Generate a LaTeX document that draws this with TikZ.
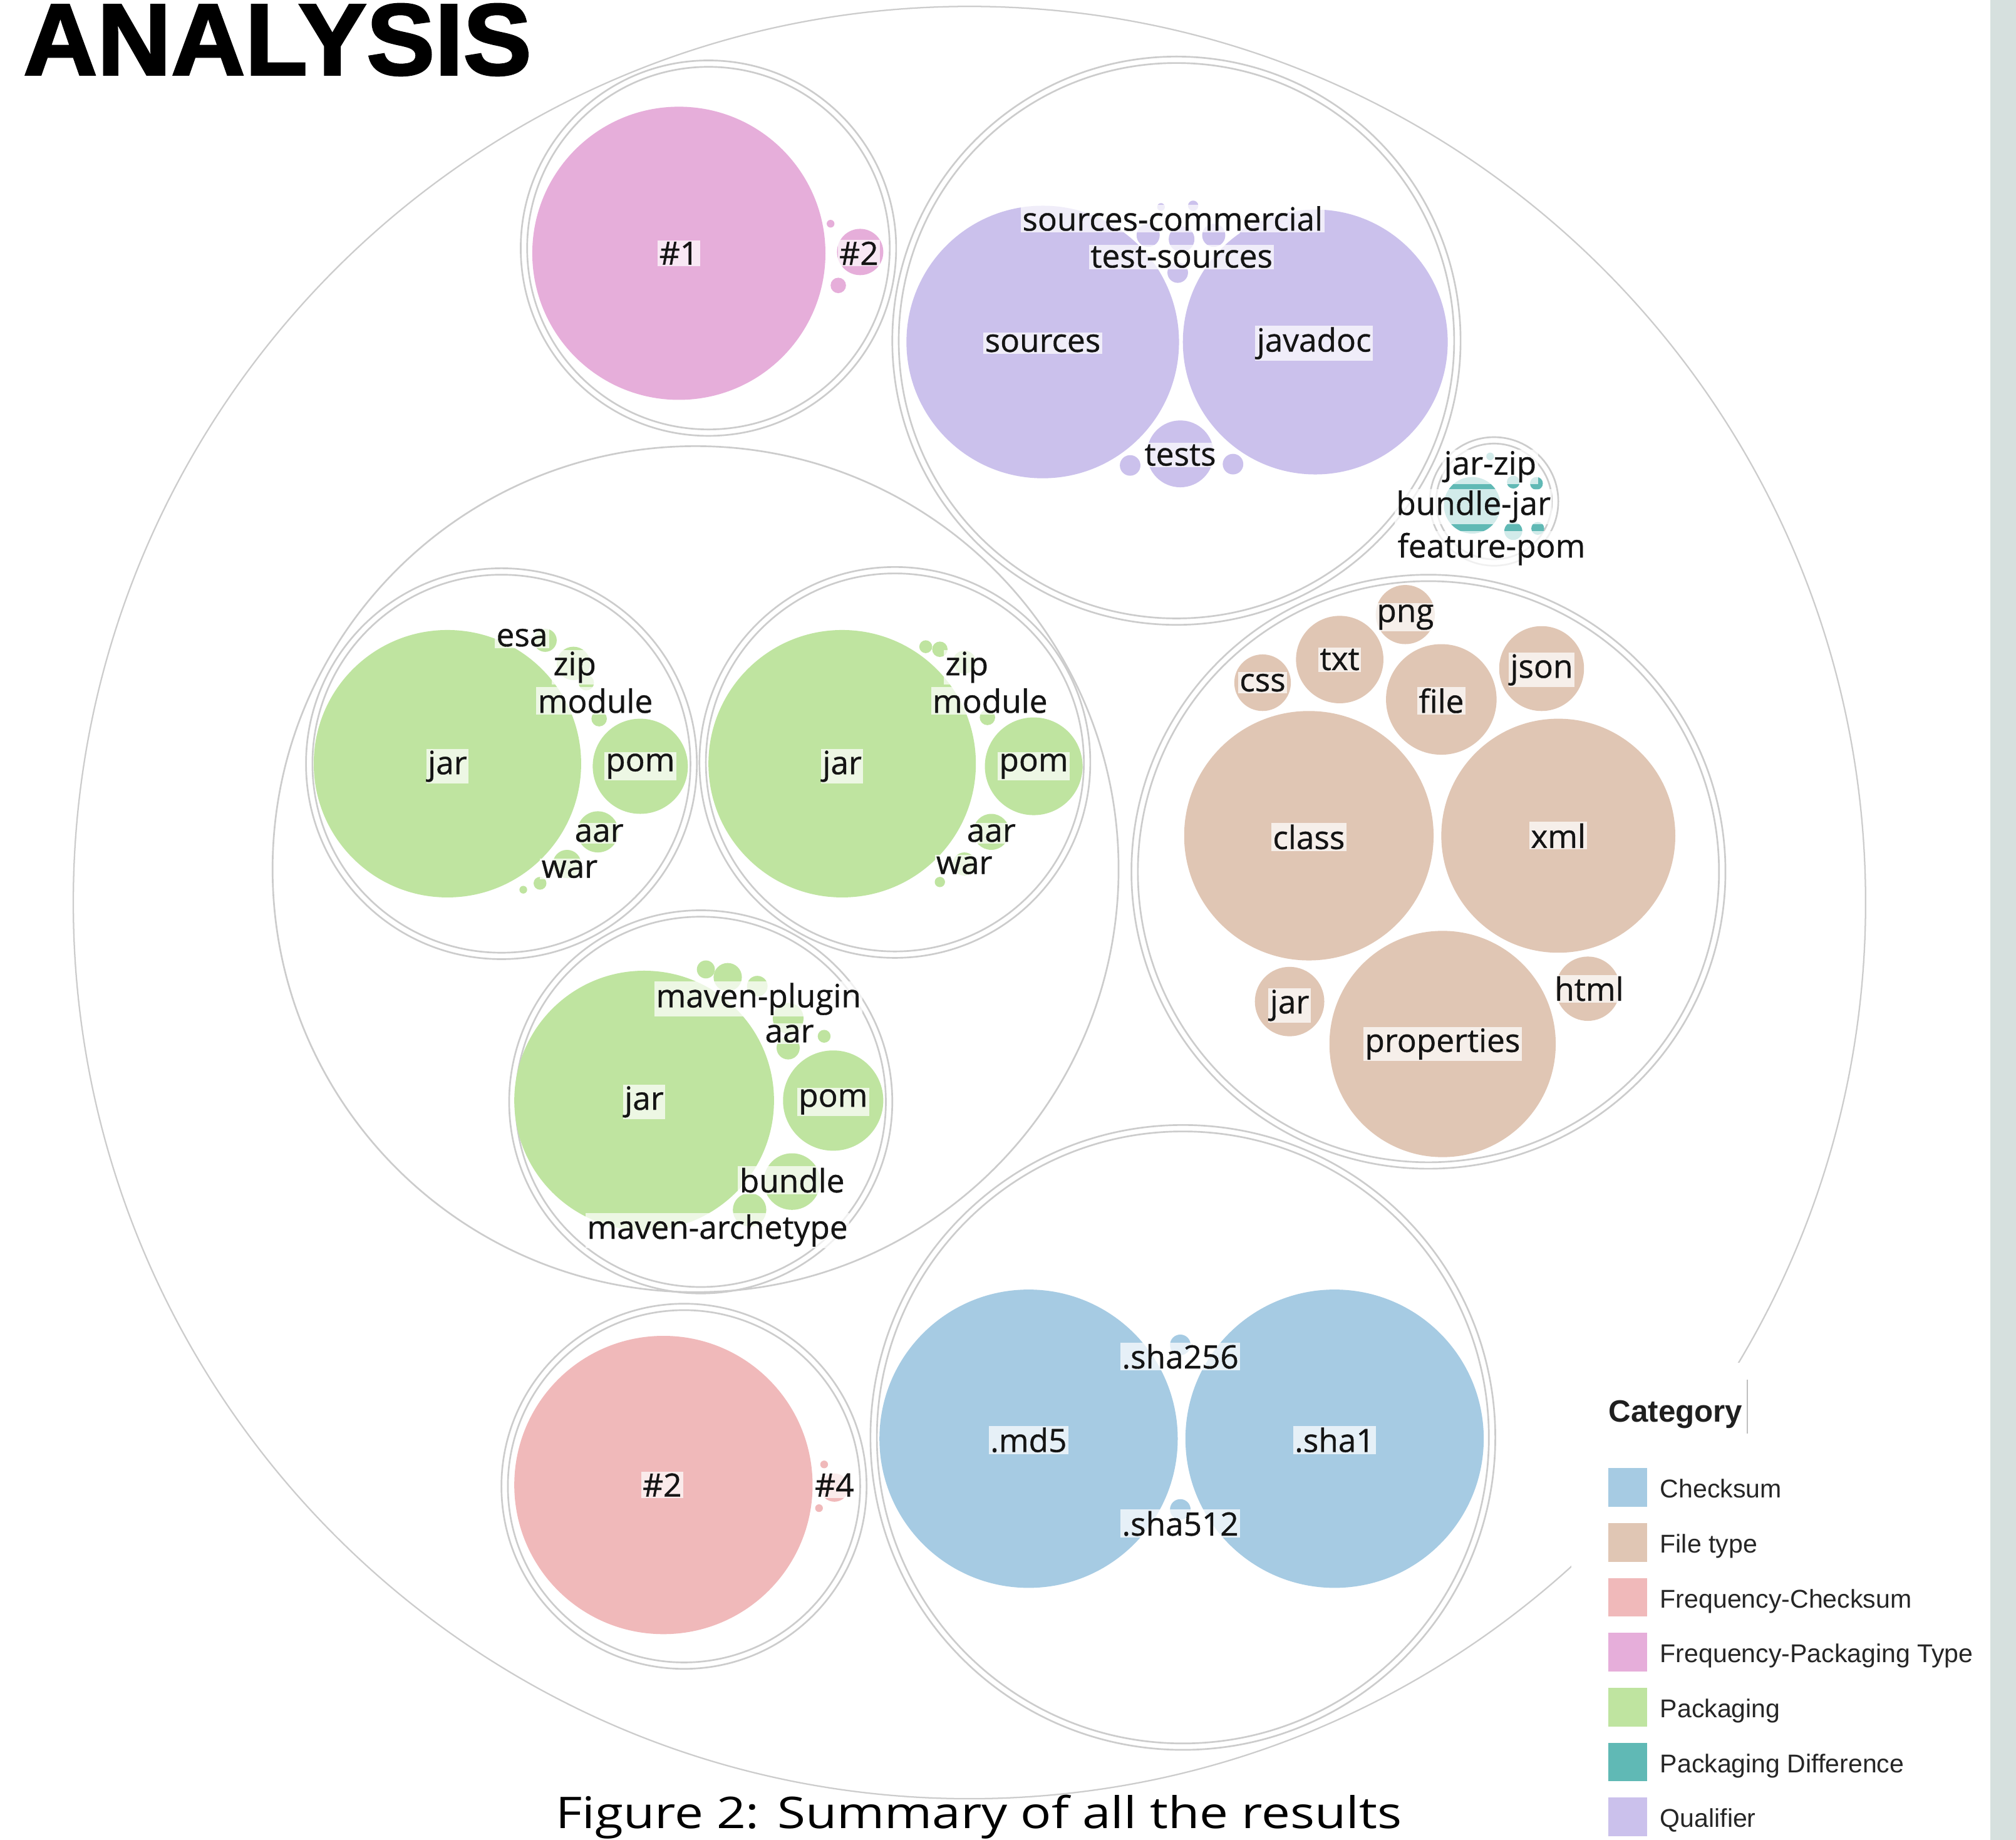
\documentclass[tikz,border=0pt]{standalone}
\usepackage{fontspec}
\setmainfont{Open Sans}
\newfontfamily\lblfont{Open Sans}[FakeBold=0.7]
\newfontfamily\legfont{Liberation Sans}
\newfontfamily\titlefont{Liberation Sans Bold}[FakeBold=2]
\definecolor{cs}{HTML}{A6CBE3}
\definecolor{ft}{HTML}{E0C6B4}
\definecolor{fc}{HTML}{F0B9BA}
\definecolor{fp}{HTML}{E6AEDA}
\definecolor{pk}{HTML}{BFE4A0}
\definecolor{pd}{HTML}{60B9B5}
\definecolor{ql}{HTML}{CBC1EC}
\definecolor{ringc}{HTML}{CCCCCC}
\definecolor{stripc}{HTML}{D6E0DE}
\newcommand\dring[2]{\draw[ring] (#1) circle[radius=#2pt]; \draw[ring] (#1) circle[radius=#2pt-5pt];}
\newcommand\leaf[4]{\fill[#1] (#2,#3) circle[radius=#4pt];}
\begin{document}
\begin{tikzpicture}[x=1pt,y=-1pt,
 ring/.style={draw=ringc, line width=1.3pt},
 lbl/.style={fill=white, fill opacity=0.72, text opacity=1, inner sep=1.2pt, font=\lblfont\fontsize{25}{28}\selectfont, text=black!92},
 legtxt/.style={font=\legfont\fontsize{20}{22}\selectfont, anchor=base west, inner sep=0pt, text=black!85},
]
\useasboundingbox (0,0) rectangle (1568,1431);
\fill[white] (0,0) rectangle (1568,1431);
\fill[stripc] (1548,0) rectangle (1568,1431);

% outer ring
\draw[ring, line width=1.1pt] (754,702) circle[radius=697pt];

% Frequency-Packaging Type
\dring{551,193}{146}
\leaf{fp}{528}{197}{114}
\leaf{fp}{669}{196}{18}
\leaf{fp}{652}{222}{6}
\leaf{fp}{646}{174}{3}

% Qualifier
\dring{915,265}{221}
\leaf{ql}{811}{266}{106}
\leaf{ql}{1023}{266}{103}
\leaf{ql}{918}{353}{26}
\leaf{ql}{893}{183}{9}
\leaf{ql}{919}{186}{10}
\leaf{ql}{944}{183}{9}
\leaf{ql}{928}{160}{4}
\leaf{ql}{903}{161}{3}
\leaf{ql}{916}{212}{8}
\leaf{ql}{970}{183}{6}
\leaf{ql}{879}{362}{8}
\leaf{ql}{959}{361}{8}

% Packaging Difference
\dring{1162,390}{50}
\leaf{pd}{1145}{393}{22}
\leaf{pd}{1177}{375}{5}
\leaf{pd}{1195}{376}{5}
\leaf{pd}{1177}{413}{7}
\leaf{pd}{1196}{411}{5}
\leaf{pd}{1159}{355}{3}

% Packaging
\draw[ring] (541,676) circle[radius=329pt];
% left sub
\dring{390,594}{152}
\leaf{pk}{348}{594}{104}
\leaf{pk}{498}{596}{37}
\leaf{pk}{424}{498}{9}
\leaf{pk}{446}{516}{13}
\leaf{pk}{456}{531}{6}
\leaf{pk}{466}{559}{6}
\leaf{pk}{465}{647}{16}
\leaf{pk}{441}{672}{11}
\leaf{pk}{420}{687}{5}
\leaf{pk}{407}{692}{3}
% right sub
\dring{696,593}{152}
\leaf{pk}{655}{594}{104}
\leaf{pk}{804}{596}{38}
\leaf{pk}{720}{503}{5}
\leaf{pk}{731}{505}{6}
\leaf{pk}{750}{515}{9}
\leaf{pk}{768}{558}{6}
\leaf{pk}{771}{647}{14}
\leaf{pk}{750}{672}{9}
\leaf{pk}{731}{686}{4}
% bottom sub
\dring{545,857}{149}
\leaf{pk}{501}{856}{101}
\leaf{pk}{648}{856}{39}
\leaf{pk}{616}{919}{22}
\leaf{pk}{549}{754}{7}
\leaf{pk}{566}{760}{11}
\leaf{pk}{589}{767}{8}
\leaf{pk}{613}{792}{12}
\leaf{pk}{613}{815}{9}
\leaf{pk}{641}{806}{5}
\leaf{pk}{583}{941}{13}

% File type
\dring{1111,678}{231}
\leaf{ft}{1018}{650}{97}
\leaf{ft}{1212}{650}{91}
\leaf{ft}{1122}{812}{88}
\leaf{ft}{1003}{779}{27}
\leaf{ft}{1235}{769}{25}
\leaf{ft}{1121}{544}{43}
\leaf{ft}{1199}{520}{33}
\leaf{ft}{1042}{513}{34}
\leaf{ft}{1093}{478}{23}
\leaf{ft}{982}{531}{22}

% Frequency-Checksum
\dring{532,1156}{142}
\leaf{fc}{516}{1155}{116}
\leaf{fc}{649}{1157}{11}
\leaf{fc}{637}{1173}{3}
\leaf{fc}{641}{1139}{3}

% Checksum
\dring{920,1118}{243}
\leaf{cs}{800}{1119}{116}
\leaf{cs}{1038}{1119}{116}
\leaf{cs}{918}{1046}{8}
\leaf{cs}{918}{1174}{8}

% labels
\node[lbl] (l-fp1) at (528,197) {\#1};
\node[lbl] (l-fp2) at (668,197) {\#2};
\node[lbl] (l-sc) at (912,170) {sources-commercial};
\node[lbl] (l-ts) at (919,200) {test-sources};
\node[lbl] (l-src) at (811,267) {sources};
\node[lbl] (l-jd) at (1022,267) {javadoc};
\node[lbl] (l-tests) at (918,354) {tests};
\node[lbl] (l-jz) at (1159,363) {jar-zip};
\node[lbl] (l-bj) at (1146,394) {bundle-jar};
\node[lbl] (l-fpom) at (1160,427) {feature-pom};

\node[lbl] (l-esa) at (406,496) {esa};
\node[lbl] (l-zip1) at (447,519) {zip};
\node[lbl] (l-mod1) at (463,545) {module};
\node[lbl] (l-jar1) at (348,596) {jar};
\node[lbl] (l-pom1) at (498,596) {pom};
\node[lbl] (l-aar1) at (466,648) {aar};
\node[lbl] (l-war1) at (443,676) {war};

\node[lbl] (l-zip2) at (752,519) {zip};
\node[lbl] (l-mod2) at (770,545) {module};
\node[lbl] (l-jar2) at (655,596) {jar};
\node[lbl] (l-pom2) at (804,596) {pom};
\node[lbl] (l-aar2) at (771,648) {aar};
\node[lbl] (l-war2) at (750,673) {war};

\node[lbl] (l-mp) at (590,777) {maven-plugin};
\node[lbl] (l-aar3) at (614,804) {aar};
\node[lbl] (l-jar3) at (501,857) {jar};
\node[lbl] (l-pom3) at (648,857) {pom};
\node[lbl] (l-bun) at (616,918) {bundle};
\node[lbl] (l-ma) at (558,957) {maven-archetype};

\node[lbl] (l-png) at (1093,480) {png};
\node[lbl] (l-txt) at (1042,513) {txt};
\node[lbl] (l-css) at (982,531) {css};
\node[lbl] (l-json) at (1199,521) {json};
\node[lbl] (l-file) at (1121,545) {file};
\node[lbl] (l-class) at (1018,651) {class};
\node[lbl] (l-xml) at (1212,650) {xml};
\node[lbl] (l-jar4) at (1003,782) {jar};
\node[lbl] (l-html) at (1236,769) {html};
\node[lbl] (l-prop) at (1122,812) {properties};

\node[lbl] (l-fc2) at (515,1155) {\#2};
\node[lbl] (l-fc4) at (649,1155) {\#4};
\node[lbl] (l-s256) at (918,1055) {.sha256};
\node[lbl] (l-md5) at (800,1120) {.md5};
\node[lbl] (l-sha1) at (1038,1120) {.sha1};
\node[lbl] (l-s512) at (918,1185) {.sha512};

% legend
\fill[white] (1222,1060) rectangle (1548,1431);
\node[font=\legfont\bfseries\fontsize{24}{26}\selectfont, anchor=base west, inner sep=0pt, text=black!88] (legtitle) at (1251,1106) {Category};
\coordinate (cur-top) at (1359,1073);
\coordinate (cur-bot) at (1359,1115);
\draw[black!25, line width=0.8pt] (cur-top) -- (cur-bot);
\foreach \c/\t/\y [count=\i] in {cs/Checksum/1157, ft/File type/1199.7, fc/Frequency-Checksum/1242.4, fp/Frequency-Packaging Type/1285.1, pk/Packaging/1327.8, pd/Packaging Difference/1370.5, ql/Qualifier/1413.2}{
  \fill[\c] (1251,\y-15) rectangle (1281,\y+15);
  \node[legtxt] (leg\i) at (1291,\y+8) {\t};
}

% title and caption
\node[anchor=south west, inner sep=0pt] (title) at (18,59) {\resizebox{395pt}{55pt}{\titlefont ANALYSIS}};
\node[anchor=base west, inner sep=0pt] (caption) at (432,1422) {\resizebox{658pt}{26pt}{Figure 2: Summary of all the results}};
\end{tikzpicture}
\end{document}
